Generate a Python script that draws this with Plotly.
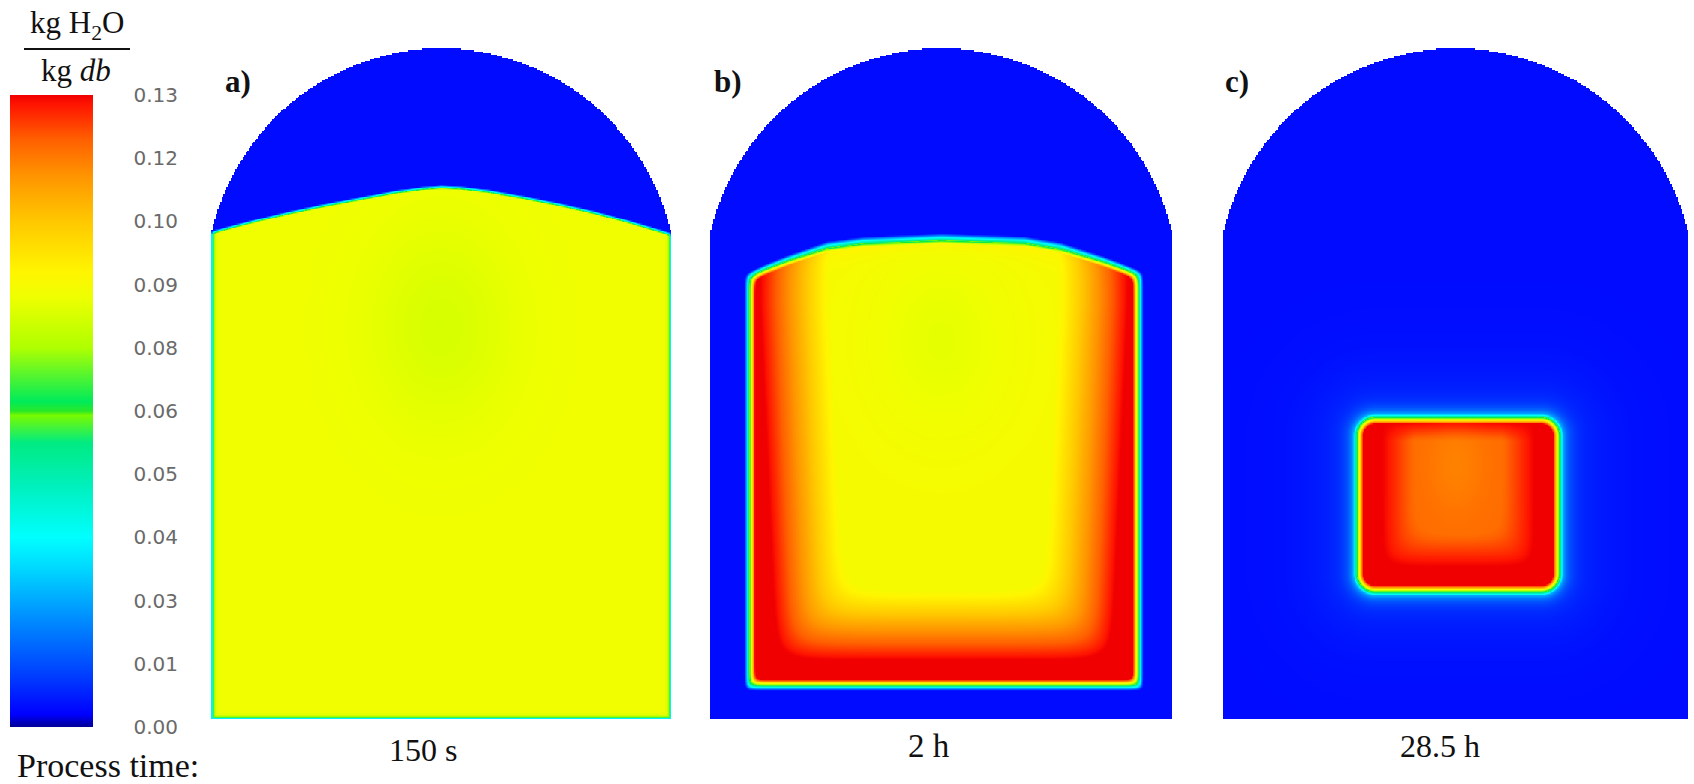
import numpy as np
import plotly.graph_objects as go

# ---------------- values ----------------
cbar_min, cbar_max = 0.0, 0.13
tick_vals = [0.0, 0.013, 0.026, 0.039, 0.052, 0.065, 0.078, 0.091, 0.104, 0.117, 0.13]
tick_text = ["0.00", "0.01", "0.03", "0.04", "0.05", "0.06", "0.08", "0.09", "0.10", "0.12", "0.13"]

cs_pos = [0.0, 0.02, 0.08, 0.17, 0.25, 0.30, 0.38, 0.45, 0.493, 0.50, 0.515, 0.60, 0.68, 0.72, 0.80, 0.87, 0.93, 0.985, 1.0]
cs_col = ["rgb(0,0,150)", "rgb(0,0,255)", "rgb(0,60,255)", "rgb(0,140,255)", "rgb(0,215,255)",
          "rgb(0,255,255)", "rgb(0,240,190)", "rgb(0,235,130)", "rgb(120,250,0)", "rgb(40,232,40)",
          "rgb(0,235,90)", "rgb(175,255,0)", "rgb(238,255,0)", "rgb(255,245,0)", "rgb(255,200,0)",
          "rgb(255,150,0)", "rgb(255,95,0)", "rgb(255,20,0)", "rgb(240,0,0)"]

panel_labels = ["a)", "b)", "c)"]
time_labels = ["150 s", "2 h", "28.5 h"]
time_title = "Process time:"

# silo geometry, in units of silo diameter
wall_height = 1.054
dome_rise = 0.400
dry_value = 0.004

# a) 150 s : drying front position and bulk moisture
a_front_u = [0.0, 0.05, 0.10, 0.17, 0.24, 0.32, 0.40, 0.46, 0.50, 0.54, 0.60, 0.68, 0.76, 0.83, 0.90, 0.95, 1.0]
a_front_v = [1.054, 1.068, 1.081, 1.098, 1.113, 1.128, 1.143, 1.151, 1.154, 1.152, 1.145, 1.131, 1.115,
             1.099, 1.080, 1.065, 1.050]
a_body = 0.089
a_center = 0.0845

# b) 2 h : wet region bounds, front, band values
b_wet_left, b_wet_right, b_wet_bottom = 0.078, 0.933, 0.067
b_front_u = [0.078, 0.12, 0.17, 0.253, 0.33, 0.50, 0.68, 0.758, 0.85, 0.89, 0.933]
b_front_v = [0.963, 0.982, 1.002, 1.031, 1.041, 1.048, 1.042, 1.029, 0.999, 0.984, 0.967]
b_core = 0.091
b_center = 0.087
b_peak = 0.130
b_red_top, b_red_bottom = 0.030, 0.062    # red band width near top / bottom
b_fade = 0.15

# c) 28.5 h : remaining wet core
c_left, c_right, c_bottom, c_top = 0.282, 0.728, 0.271, 0.659
c_corner = 0.044
c_peak = 0.130
c_core = 0.119
c_halo = 0.022

# ---------------- layout in pixels ----------------
FW, FH = 1694, 784
panel_x = [(211, 671), (710, 1172), (1223, 1688)]
panel_top, panel_bottom = 48, 719

total_h = wall_height + dome_rise
R = (0.25 + dome_rise ** 2) / (2 * dome_rise)
vc = total_h - R

Nu = 308
Nv = int(round(total_h * Nu))
u = (np.arange(Nu) + 0.5) / Nu
v = (np.arange(Nv) + 0.5) * total_h / Nv
U, V = np.meshgrid(u, v)
inside = (V <= wall_height) | ((U - 0.5) ** 2 + (V - vc) ** 2 <= R ** 2)


def smin(ds, k):
    ds = np.stack(ds)
    m = ds.min(axis=0)
    return m - k * np.log(np.exp(-(ds - m) / k).sum(axis=0))


def blob(cu, cv, su, sv):
    return np.exp(-(((U - cu) / su) ** 2 + ((V - cv) / sv) ** 2))


# a)
fa = np.interp(U, a_front_u, a_front_v)
s = np.clip(0.5 + (fa - V) / 0.008, 0, 1)
dw = np.minimum(np.minimum(U, 1 - U), V)
wf = 1 - np.exp(-dw / 0.003)
body = a_body - (a_body - a_center) * blob(0.5, 0.85, 0.16, 0.22)
za = body * s * wf + dry_value * (1 - s)

# b)
fb = np.interp(U, b_front_u, b_front_v)
dL, dR, dB, dT = U - b_wet_left, b_wet_right - U, V - b_wet_bottom, fb - V
d_all = smin([dL, dR, dB, dT], 0.006)
t = np.clip((d_all + 0.004) / 0.022, 0, 1)
d_s = smin([dL, dR, dB], 0.03)
red_w = b_red_top + (b_red_bottom - b_red_top) * np.clip((0.9 - V) / 0.7, 0, 1)
band = np.clip(1 - (d_s - red_w) / b_fade, 0, 1)
core = b_core - (b_core - b_center) * blob(0.5, 0.82, 0.15, 0.2)
zin = core + (b_peak - core) * band + 0.010 * np.exp(-np.clip(dT, 0, None) / 0.015) * (1 - band)
zb = dry_value + (zin - dry_value) * t

# c)
cx, cy = (c_left + c_right) / 2, (c_bottom + c_top) / 2
hx, hy = (c_right - c_left) / 2 - c_corner, (c_top - c_bottom) / 2 - c_corner
qx, qy = np.abs(U - cx) - hx, np.abs(V - cy) - hy
sd = np.sqrt(np.maximum(qx, 0) ** 2 + np.maximum(qy, 0) ** 2) + np.minimum(np.maximum(qx, qy), 0) - c_corner
din = -sd
cL, cR, cB, cT = U - c_left, c_right - U, V - c_bottom, c_top - V
cs_ = smin([cL, cR, cB], 0.02)
f = np.clip((cs_ - 0.06) / 0.07, 0, 1) * np.clip((cT - 0.015) / 0.04, 0, 1)
zin_c = c_peak - (c_peak - c_core) * f - 0.003 * blob(0.5, 0.55, 0.06, 0.1)
zout = dry_value + c_halo * np.exp(np.minimum(din, 0) / 0.011) + 0.006 * np.exp(np.minimum(din, 0) / 0.07)
tc = np.clip((din + 0.002) / 0.02, 0, 1)
zc = zout + (zin_c - zout) * tc

fields = [za, zb, zc]

fig = go.Figure()
for i, z in enumerate(fields):
    zz = np.where(inside, np.round(z, 5), np.nan).astype(np.float32)
    fig.add_trace(go.Heatmap(
        x=u.astype(np.float32), y=v.astype(np.float32), z=zz, coloraxis="coloraxis", zsmooth="best",
        hoverinfo="skip", xaxis=f"x{i + 1}" if i else "x", yaxis=f"y{i + 1}" if i else "y"))

layout = dict(
    width=FW, height=FH, margin=dict(l=0, r=0, t=0, b=0, autoexpand=False),
    paper_bgcolor="white", plot_bgcolor="rgba(0,0,0,0)", showlegend=False,
    coloraxis=dict(
        colorscale=[[p, c] for p, c in zip(cs_pos, cs_col)], cmin=cbar_min, cmax=cbar_max,
        colorbar=dict(
            thickness=83, thicknessmode="pixels", len=632, lenmode="pixels",
            x=10 / FW, xanchor="left", y=(FH - 727) / FH, yanchor="bottom",
            xpad=0, ypad=0, outlinewidth=0,
            tickmode="array", tickvals=tick_vals, ticktext=tick_text,
            ticks="outside", ticklen=37, tickcolor="rgba(0,0,0,0)",
            tickfont=dict(family="DejaVu Sans", size=20, color="#6a6a6a"))),
)
for i, (x0, x1) in enumerate(panel_x):
    sfx = str(i + 1) if i else ""
    layout["xaxis" + sfx] = dict(domain=[x0 / FW, x1 / FW], range=[0, 1], visible=False, fixedrange=True,
                                 anchor="y" + sfx)
    layout["yaxis" + sfx] = dict(domain=[(FH - panel_bottom) / FH, (FH - panel_top) / FH],
                                 range=[0, total_h], visible=False, fixedrange=True, anchor="x" + sfx)
fig.update_layout(**layout)

serif = "Liberation Serif"
ann = []
label_x = [223, 712, 1223]
for lx, lab in zip(label_x, panel_labels):
    ann.append(dict(x=lx / FW, y=1 - 82 / FH, xref="paper", yref="paper", xanchor="left", yanchor="middle",
                    text=f"<b>{lab}</b>", showarrow=False, font=dict(family=serif, size=31, color="#111")))
time_x = [423, 929, 1440]
time_y = [750, 746, 746]
time_size = [32, 33, 32]
for tx, ty, ts, lab in zip(time_x, time_y, time_size, time_labels):
    ann.append(dict(x=tx / FW, y=1 - ty / FH, xref="paper", yref="paper", xanchor="center", yanchor="middle",
                    text=lab, showarrow=False, font=dict(family=serif, size=ts, color="#111")))
ann.append(dict(x=15 / FW, y=1 - 765 / FH, xref="paper", yref="paper", xanchor="left", yanchor="middle",
                text=time_title, showarrow=False, font=dict(family=serif, size=34, color="#111")))
ann.append(dict(x=77 / FW, y=1 - 25 / FH, xref="paper", yref="paper", xanchor="center", yanchor="middle",
                text="kg H<sub>2</sub>O", showarrow=False, font=dict(family=serif, size=31, color="#111")))
ann.append(dict(x=76 / FW, y=1 - 70 / FH, xref="paper", yref="paper", xanchor="center", yanchor="middle",
                text="kg <i>db</i>", showarrow=False, font=dict(family=serif, size=31, color="#111")))
fig.update_layout(annotations=ann)
fig.add_shape(type="line", xref="paper", yref="paper", x0=24 / FW, x1=130 / FW, y0=1 - 49 / FH, y1=1 - 49 / FH,
              line=dict(color="#111", width=2))

fig.write_html("out.html", config={"displayModeBar": False},
               post_script="document.body.style.margin='0';document.body.style.padding='0';")
